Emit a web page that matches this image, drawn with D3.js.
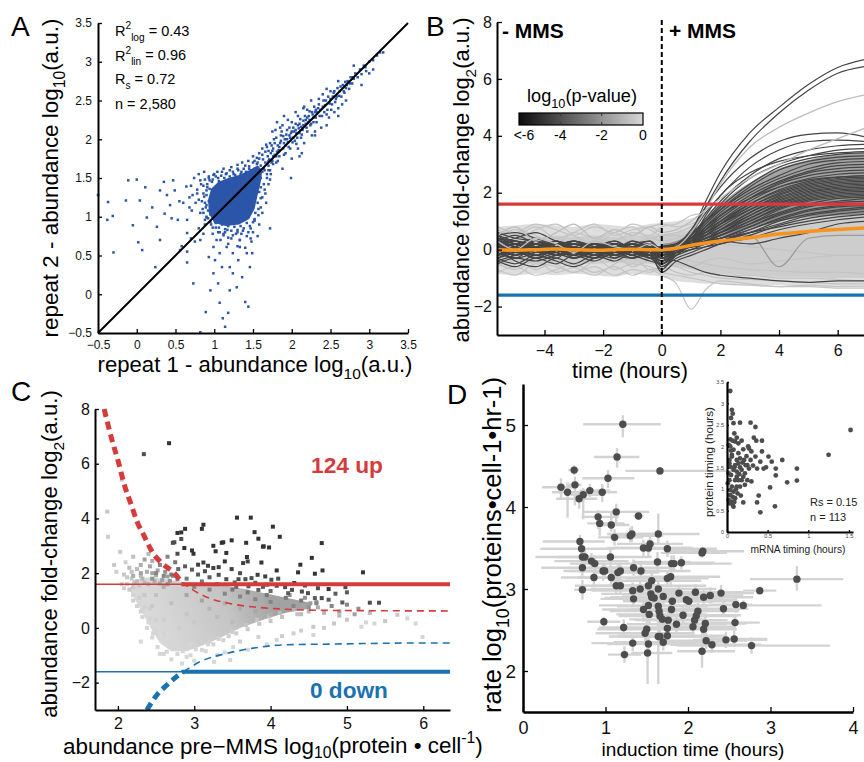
<!DOCTYPE html>
<html><head><meta charset="utf-8">
<script src="https://cdn.jsdelivr.net/npm/d3@7"></script>
<style>body{margin:0;background:#fff}svg{display:block}</style>
</head><body>
<svg width="864" height="762"></svg>
<script>
// ---------------- DATA ----------------
// Panel A: repeat 1 vs repeat 2 abundance (log10)
const repeatCore = [[1.0,0.92],[0.93,1.05],[0.92,1.22],[0.96,1.36],[1.05,1.45],[1.18,1.5],[1.32,1.54],[1.45,1.6],[1.56,1.66],[1.62,1.6],[1.6,1.45],[1.56,1.28],[1.52,1.1],[1.45,0.97],[1.32,0.9],[1.15,0.88]];
const repeatPoints = [
[0.78,1.35],[0.8,1.22],[0.83,1.42],[0.85,1.1],[0.86,1.3],[0.88,1.48],[0.9,1.0],[0.9,1.15],[0.91,1.38],[0.93,1.52],[0.95,0.93],[0.97,1.45],[1.0,1.55],[1.02,0.86],[1.05,1.5],[1.07,0.8],[1.1,1.58],[1.12,0.76],[1.15,1.55],[1.17,0.83],[1.2,1.6],[1.22,0.72],[1.25,1.55],[1.28,0.78],[1.3,1.62],[1.33,0.7],[1.35,1.58],[1.37,0.82],[1.4,1.66],[1.42,0.75],[1.45,1.62],[1.47,0.85],[1.5,1.7],[1.52,0.95],[1.55,1.68],[1.57,1.02],[1.6,1.12],[1.62,1.25],[1.65,1.35],[1.68,1.5],[1.7,1.42],[1.72,1.6],[1.58,0.9],[1.48,0.68],[1.4,0.6],[1.3,0.62],[1.18,0.65],[1.08,0.7],[0.98,0.78],[0.88,0.9],[0.82,1.05],[0.76,1.18],[0.72,1.28],[0.7,1.4],[0.74,1.5],[0.8,1.55],[0.87,1.58],[0.68,1.12],
[0.86,1.05],[0.88,1.18],[0.87,1.26],[0.9,1.34],[0.92,1.08],[0.93,1.2],[0.91,1.42],[0.94,1.47],[0.89,1.12],[0.92,0.98],[0.95,1.03],[0.9,1.28],[0.94,1.36],[0.86,1.4],[0.84,1.2],[0.88,0.96],[0.96,0.9],[0.93,1.5],
[0.98,1.48],[1.02,1.52],[1.06,1.46],[1.09,1.53],[1.13,1.5],[1.16,1.56],[1.2,1.52],[1.24,1.58],[1.27,1.54],[1.31,1.6],[1.34,1.55],[1.38,1.62],[1.41,1.58],[1.45,1.65],[1.48,1.6],[1.52,1.72],[1.04,1.58],[1.12,1.62],[1.22,1.64],[1.3,1.67],[1.36,1.7],[1.44,1.72],[1.5,1.78],[1.58,1.82],[1.55,1.76],[1.62,1.88],[1.67,1.93],[1.7,1.85],
[1.55,1.4],[1.58,1.32],[1.6,1.5],[1.62,1.58],[1.56,1.18],[1.6,1.24],[1.64,1.42],[1.66,1.3],[1.68,1.55],[1.7,1.66],[1.53,1.05],[1.57,1.1],[1.52,0.97],[1.62,1.05],[1.74,1.7],[1.76,1.78],[1.72,1.48],[1.67,1.18],
[1.02,0.92],[1.06,0.86],[1.1,0.9],[1.14,0.84],[1.18,0.88],[1.22,0.82],[1.26,0.87],[1.3,0.83],[1.34,0.88],[1.38,0.85],[1.42,0.92],[1.46,0.88],[1.5,0.93],[1.12,0.78],[1.24,0.76],[1.35,0.78],[1.44,0.8],[1.05,0.8],[0.98,0.86],
[1.52,1.62],[1.56,1.7],[1.6,1.66],[1.63,1.74],[1.66,1.7],[1.69,1.78],[1.71,1.74],[1.73,1.82],[1.76,1.88],[1.78,1.95],[1.81,1.84],[1.84,1.9],[1.86,1.98],[1.89,2.04],[1.92,1.92],[1.94,2.0],[1.97,2.05],[2.0,2.1],[2.02,2.02],[2.05,2.12],[2.08,2.18],[2.1,2.08],[2.12,2.16],[2.15,2.24],[2.18,2.2],[2.2,2.28],[2.23,2.25],[2.26,2.35],[2.28,2.22],[2.31,2.38],[1.58,1.56],[1.64,1.62],[1.7,1.6],[1.75,1.72],[1.8,1.78],[1.66,1.84],[1.72,1.95],[1.58,1.75],[1.54,1.55],[1.6,1.38],
[1.74,1.92],[1.78,1.8],[1.8,2.02],[1.83,1.86],[1.85,1.95],[1.87,2.1],[1.89,1.88],[1.91,2.0],[1.93,2.06],[1.95,1.96],[1.97,2.15],[1.99,2.08],[2.01,1.96],[2.03,2.1],[2.05,2.2],[2.07,2.02],[2.09,2.14],[2.11,2.26],[2.13,2.06],[2.15,2.18],[2.17,2.3],[2.19,2.15],[2.21,2.22],[2.23,2.36],[2.25,2.2],[2.27,2.32],[2.29,2.42],[2.31,2.28],[2.33,2.35],[2.35,2.45],[2.37,2.38],[2.39,2.3],[2.41,2.5],[2.43,2.44],[2.45,2.32],[2.47,2.55],[2.49,2.46],[2.51,2.38],[2.53,2.55],[2.55,2.62],[2.57,2.52],[2.59,2.66],[2.61,2.56],[2.63,2.68],[2.67,2.62],[2.69,2.74],[2.71,2.7],[2.75,2.72],[1.76,1.68],[1.82,1.72],[1.9,1.8],[1.98,1.88],[2.06,1.94],[2.0,2.22],[2.08,2.3],[2.16,2.42],[1.88,2.18],[1.79,2.12],
[1.62,1.8],[1.65,1.6],[1.68,1.9],[1.7,1.72],[1.73,1.55],[1.75,1.85],[1.77,2.0],[1.8,1.7],[1.82,1.92],[1.84,1.78],[1.86,2.05],[1.88,1.62],[1.9,1.95],[1.92,1.82],[1.94,2.12],[1.96,1.9],[1.98,2.02],[2.0,1.75],[2.02,2.15],[2.04,1.98],[2.06,2.08],[2.08,1.88],[2.1,2.2],[2.12,2.02],[2.14,2.12],[2.16,1.95],[2.18,2.25],[2.2,2.1],[2.22,2.3],[2.24,2.18],[2.26,2.05],[2.28,2.28],[2.3,2.35],[2.32,2.22],[2.34,2.4],[2.36,2.3],[2.38,2.15],[2.4,2.42],[2.42,2.35],[2.44,2.5],[2.46,2.38],[2.48,2.28],[2.5,2.52],[2.52,2.45],[2.54,2.6],[2.56,2.48],[2.58,2.55],[2.6,2.4],[2.62,2.62],[2.64,2.55],[2.66,2.7],[2.68,2.6],[2.7,2.66],[2.72,2.75],[2.74,2.65],[2.76,2.8],[2.78,2.72],[2.8,2.78],[2.82,2.85],[2.85,2.8],[2.88,2.9],[2.9,2.84],[2.93,2.95],[2.96,2.88],[3.0,3.0],[3.05,3.02],[3.1,3.08],[3.14,3.12],[3.0,2.85],[2.5,2.62],[2.2,2.38],[1.95,2.25],[2.35,2.52],[2.55,2.35],[2.3,2.05],[2.65,2.45],[2.45,2.18],[1.85,2.15],[2.15,2.4],
[1.81,2.22],[2.13,1.82],[1.99,1.5],[2.79,2.8],[2.95,2.93],[3.18,3.12],[1.72,0.85],[2.25,2.5],[2.4,2.58],[1.9,2.3],[2.05,2.35],[2.6,2.75],[2.45,2.65],[2.8,2.95],[2.1,1.78],[2.3,2.1],[1.75,2.1],[2.6,2.3],[2.7,2.5],[2.9,2.7],[3.05,2.9],
[-0.5,1.28],[-0.37,1.19],[-0.38,0.96],[-0.31,1.01],[-0.14,1.21],[-0.11,1.47],[0.0,1.48],[-0.05,0.89],[0.04,1.21],[0.02,0.67],[0.07,0.57],[0.11,1.38],[0.13,0.99],[0.24,0.35],[0.3,1.34],[0.39,1.28],[0.43,1.15],[0.49,1.34],[0.3,0.7],[0.56,0.57],[0.6,1.18],[0.65,0.96],[0.26,0.87],[-0.3,0.54],[0.2,1.12],[0.47,1.47],[0.78,1.3],[0.71,1.08],[0.36,1.04],[0.53,0.96],[0.65,0.79],[0.82,0.7],[0.9,0.99],[0.82,1.47],[0.99,1.54],[0.64,1.39],[0.58,0.62],[0.65,0.55],[0.7,0.72],[0.75,0.68],[0.8,0.85],[0.86,0.78],[0.55,1.2],[0.45,0.98],[0.68,1.25],[0.35,1.45],
[0.65,0.41],[0.73,0.14],[0.82,-0.49],[0.89,-0.23],[0.95,0.05],[0.99,0.27],[1.01,0.44],[1.05,0.14],[1.07,-0.11],[1.11,-0.31],[1.14,-0.42],[1.18,-0.24],[1.2,0.05],[1.24,0.27],[1.29,0.09],[1.31,0.44],[1.36,0.22],[1.4,-0.1],[1.44,-0.16],[1.46,0.35],[1.49,0.53],[1.07,0.53],[1.16,0.61],[1.24,0.53],[1.33,0.61],[0.99,0.61],[0.93,0.48],[1.2,0.35],[1.1,0.35],[1.42,0.53],[1.03,0.7],[1.18,0.73],[1.33,0.7],[1.47,0.72],[1.14,0.8],[1.3,0.8],[1.5,0.8],[1.56,0.75]];
const statsA = ["0.43","0.96","0.72","2,580"];

// Panel B: abundance fold-change time courses (log2)
const timeB = [-5.6,-5,-4.3,-3.6,-3,-2.3,-1.6,-1,-0.4,0,0.5,1,1.5,2,3,4,5,6,7];
const bandOuterHi = [0.8,0.85,0.9,0.85,0.8,0.9,0.85,0.8,0.9,0.95,1.0,1.1,1.3,1.45,1.6,1.7,1.75,1.8,1.85];
const bandOuterLo = [-0.85,-0.9,-0.85,-0.9,-0.85,-0.9,-0.95,-0.85,-0.9,-0.95,-1.1,-1.15,-1.2,-1.2,-1.25,-1.25,-1.3,-1.3,-1.3];
const bandInnerHi = [0.45,0.5,0.45,0.5,0.45,0.5,0.45,0.5,0.5,0.55,0.6,0.7,0.85,1.0,1.2,1.35,1.45,1.5,1.55];
const bandInnerLo = [-0.5,-0.45,-0.5,-0.45,-0.5,-0.5,-0.45,-0.5,-0.5,-0.55,-0.6,-0.7,-0.8,-0.85,-0.9,-0.95,-0.95,-1.0,-1.0];
const timeFan = [0,0.5,1,1.5,2,3,4,5,6,7];
const fanLo = [-0.2,0.0,0.15,0.3,0.45,0.75,1.0,1.15,1.2,1.25];
const fanHi = [0.2,0.3,0.6,1.1,1.6,2.35,2.85,3.15,3.35,3.4];
const medianB = [0.0,-0.02,0.0,0.02,0.0,-0.02,0.0,0.01,0.0,0.0,0.05,0.15,0.23,0.3,0.42,0.55,0.64,0.71,0.77];
const upLines = [
[0.1,-0.2,0.2,-0.1,0.3,0.0,-0.2,0.1,-0.3,-0.5,0.0,0.6,1.7,2.7,4.1,5.0,5.8,6.4,6.7],
[0.3,0.1,-0.2,0.2,0.0,-0.3,0.2,0.0,-0.2,-0.7,-0.1,0.5,1.5,2.4,3.8,4.8,5.6,6.2,6.45],
[-0.2,0.1,0.3,-0.1,-0.3,0.1,0.2,-0.2,0.0,-0.3,0.1,0.7,1.5,2.2,3.2,3.8,4.05,4.1,3.95],
[0.4,0.2,0.0,0.3,-0.1,0.0,-0.2,0.2,-0.1,-0.2,0.2,0.6,1.3,1.9,2.9,3.5,3.8,3.85,3.8],
[0.5,0.2,0.4,0.0,0.1,-0.2,0.1,-0.1,0.2,0.0,0.1,0.5,1.1,1.7,2.6,3.2,3.5,3.65,3.7],
[0.0,-0.3,-0.1,0.2,-0.2,0.1,-0.1,0.3,0.0,-0.4,0.0,0.4,1.0,1.6,2.5,3.0,3.3,3.5,3.55],
[-0.3,-0.1,0.2,-0.2,0.0,0.2,-0.3,0.0,0.2,-0.1,0.2,0.5,1.0,1.5,2.3,2.9,3.2,3.35,3.4],
[0.2,0.0,-0.3,0.1,0.3,-0.1,0.0,-0.2,0.1,-0.3,0.1,0.4,0.9,1.4,2.2,2.8,3.1,3.25,3.3],
[0.3,0.5,0.2,0.0,-0.1,0.1,0.3,0.0,-0.2,0.1,0.2,0.6,1.0,1.4,2.1,2.6,3.0,3.15,3.2],
[-0.1,0.2,0.0,-0.3,0.1,-0.2,0.0,0.2,-0.1,-0.6,-0.2,0.3,0.8,1.3,2.0,2.5,2.85,3.05,3.1],
[0.1,-0.1,0.3,0.1,-0.2,0.0,0.2,-0.1,0.1,0.0,0.1,0.4,0.8,1.2,1.9,2.4,2.75,2.95,3.0],
[0.4,0.3,0.1,-0.2,0.2,0.0,-0.1,0.1,0.3,-0.2,0.0,0.3,0.7,1.2,1.8,2.35,2.7,2.85,2.9],
[-0.4,-0.2,0.0,0.2,-0.1,-0.3,0.1,-0.2,0.0,-0.1,0.1,0.3,0.7,1.1,1.8,2.3,2.6,2.75,2.8],
[0.0,0.2,-0.2,0.0,0.3,0.1,-0.2,0.0,-0.3,-0.2,0.0,0.2,0.6,1.0,1.7,2.2,2.5,2.65,2.7],
[0.2,-0.1,0.1,0.3,0.0,-0.2,0.0,0.3,0.1,0.0,0.2,0.4,0.7,1.0,1.6,2.1,2.4,2.55,2.6],
[-0.2,0.0,0.2,-0.1,-0.3,0.0,0.2,-0.1,-0.2,-0.4,-0.1,0.2,0.5,0.9,1.6,2.05,2.35,2.5,2.55],
[0.3,0.1,-0.1,0.1,0.2,-0.1,-0.3,0.1,0.0,0.1,0.2,0.4,0.6,0.9,1.5,2.0,2.3,2.45,2.5],
[0.1,0.3,0.0,-0.2,0.0,0.2,0.1,-0.2,0.2,-0.1,0.0,0.2,0.5,0.9,1.5,1.95,2.25,2.4,2.45],
[-0.1,-0.3,0.1,0.0,0.2,-0.1,0.0,0.2,-0.1,-0.3,0.1,0.3,0.5,0.8,1.4,1.9,2.2,2.35,2.4],
[0.5,0.3,0.2,0.0,-0.2,0.1,0.0,-0.1,0.1,0.0,0.1,0.3,0.6,0.9,1.4,1.85,2.15,2.3,2.35],
[0.0,0.1,-0.2,0.2,0.1,-0.2,0.1,0.0,-0.2,-0.2,0.0,0.2,0.4,0.7,1.3,1.8,2.1,2.25,2.3],
[0.2,0.0,0.1,-0.1,-0.2,0.2,-0.1,0.1,0.0,-0.5,-0.1,0.2,0.4,0.7,1.3,1.75,2.05,2.2,2.25],
[-0.3,0.0,0.2,0.1,-0.1,0.0,0.3,-0.1,-0.2,0.0,0.1,0.3,0.5,0.7,1.2,1.7,2.0,2.15,2.2],
[0.1,-0.2,0.0,0.2,0.0,-0.3,-0.1,0.2,0.0,-0.1,0.0,0.2,0.4,0.6,1.2,1.65,1.95,2.1,2.15],
[0.3,0.2,-0.1,-0.1,0.2,0.1,-0.2,0.0,0.1,0.1,0.1,0.2,0.4,0.6,1.1,1.6,1.9,2.05,2.1],
[0.0,-0.2,0.1,0.0,-0.2,0.2,0.0,-0.3,0.0,-0.2,0.0,0.1,0.3,0.6,1.1,1.55,1.85,2.0,2.05],
[-0.2,0.1,0.3,0.0,0.1,-0.1,0.2,0.1,-0.1,0.0,0.1,0.2,0.4,0.6,1.0,1.5,1.8,1.95,2.0],
[0.4,0.1,0.0,0.2,-0.1,0.0,-0.2,0.1,0.2,-0.3,-0.1,0.1,0.3,0.5,1.0,1.45,1.75,1.9,1.95],
[0.1,0.0,-0.3,-0.1,0.1,0.2,0.0,-0.1,-0.2,-0.1,0.0,0.1,0.3,0.5,0.9,1.4,1.7,1.85,1.9],
[-0.1,0.2,0.1,0.3,0.0,-0.2,0.1,0.2,0.0,0.0,0.1,0.2,0.3,0.5,0.9,1.3,1.6,1.8,1.85],
[0.2,-0.1,-0.2,0.0,0.2,0.0,-0.1,0.0,0.1,-0.2,0.0,0.1,0.3,0.4,0.8,1.25,1.55,1.7,1.8],
[0.0,0.3,0.1,-0.2,-0.1,0.1,0.2,-0.2,-0.1,-0.1,0.0,0.1,0.2,0.4,0.8,1.2,1.5,1.65,1.7],
[0.3,0.0,0.2,0.1,-0.3,-0.1,0.0,0.1,0.2,0.0,0.1,0.1,0.2,0.4,0.7,1.1,1.4,1.55,1.6],
[-0.2,-0.1,0.0,0.2,0.1,0.0,-0.2,0.0,-0.1,-0.3,-0.1,0.0,0.2,0.3,0.7,1.05,1.35,1.5,1.55],
[0.1,0.2,-0.1,0.0,0.0,0.2,0.1,-0.1,0.0,0.1,0.1,0.1,0.2,0.3,0.6,1.0,1.25,1.4,1.5],
[0.6,0.4,0.3,0.1,0.0,-0.1,0.1,0.0,-0.2,-0.4,-0.2,0.0,0.1,0.3,0.6,0.9,1.2,1.35,1.45],
[-0.5,-0.3,-0.4,-0.2,-0.1,0.0,-0.2,-0.3,-0.1,-0.6,-0.3,-0.1,0.1,0.2,0.5,0.85,1.1,1.25,1.35],
[0.5,0.6,0.4,0.2,0.3,0.1,0.0,0.2,0.3,0.0,0.1,0.2,0.3,0.4,0.6,0.8,1.0,1.15,1.25],
[-0.4,-0.6,-0.3,-0.5,-0.2,-0.4,-0.1,-0.3,-0.2,-0.8,-0.4,-0.2,0.0,0.2,0.4,0.7,0.9,1.05,1.15],
[0.2,0.4,0.6,0.3,0.2,0.0,-0.1,0.1,0.0,-0.3,0.0,0.2,0.8,1.2,1.8,2.2,2.45,2.55,2.6],
[-0.3,-0.5,-0.2,-0.4,-0.6,-0.3,-0.1,-0.2,-0.4,-0.5,-0.2,0.3,1.2,1.9,2.7,3.1,3.3,3.4,3.45],
[0.0,-0.4,-0.6,-0.3,-0.5,-0.2,-0.4,-0.1,-0.3,-0.2,-0.1,0.1,0.2,0.3,0.2,0.4,0.6,0.9,1.0],
[0.1,0.0,-0.2,0.1,0.0,-0.1,0.2,0.0,-0.1,-0.3,-0.4,-0.6,-0.8,-0.9,-1.0,-1.1,-1.15,-1.1,-1.1]];
const otherLines = [
[0.7,0.5,0.8,0.4,0.6,0.9,0.5,0.7,0.8,0.9,0.8,0.9,1.1,1.3,1.5,1.6,1.7,1.8,1.85],
[-0.8,-0.6,-0.9,-0.7,-0.5,-0.8,-0.6,-0.9,-0.7,-0.9,-1.2,-2.1,-1.4,-1.1,-1.2,-1.3,-1.25,-1.3,-1.3],
[-0.5,-0.7,-0.4,-0.8,-0.6,-0.3,-0.7,-0.5,-0.6,-0.8,-0.9,-1.0,-1.1,-1.2,-1.25,-1.3,-1.3,-1.35,-1.35],
[0.6,0.3,0.7,0.9,0.5,0.2,0.6,0.8,0.4,0.5,0.6,0.8,1.1,1.2,1.4,1.5,1.6,1.65,1.7],
[-0.3,-0.6,-0.2,-0.5,-0.8,-0.4,-0.2,-0.6,-0.4,-0.5,-0.6,-0.8,-0.9,-1.0,-1.05,-1.1,-1.15,-1.2,-1.2],
[0.2,0.5,0.1,0.4,0.0,0.3,0.6,0.2,0.4,0.3,0.4,0.6,0.8,1.0,1.1,0.9,1.2,1.3,1.35],
[-0.6,-0.3,-0.7,-0.4,-0.6,-0.9,-0.5,-0.3,-0.7,-0.6,-0.5,-0.6,-0.4,-0.3,-0.5,-0.4,-0.3,-0.2,-0.2],
[0.8,0.6,0.9,0.7,0.5,0.8,0.6,0.9,0.7,0.5,0.5,0.4,0.3,0.2,0.1,0.0,-0.1,-0.2,-0.2],
[-0.7,-0.9,-0.5,-0.6,-0.8,-0.6,-0.9,-0.7,-0.8,-0.6,-0.8,-0.9,-0.8,-0.9,-0.9,-1.0,-1.0,-1.05,-1.1],
[0.4,0.7,0.5,0.2,0.6,0.4,0.3,0.6,0.5,0.8,0.9,1.2,1.3,1.5,1.6,1.7,1.75,1.8,1.8],
[-0.2,0.1,-0.4,-0.1,0.2,-0.3,0.0,0.3,-0.2,-0.1,-0.2,-0.4,-0.5,-0.6,-0.7,-0.75,-0.8,-0.8,-0.85]];
const spikeLine = [0.1,-0.2,0.2,0.0,-0.1,0.1,0.0,-0.2,0.1,0.0,0.0,0.1,0.3,0.4,0.5,-0.6,0.4,0.5,0.5];
const lightHighLines = [
[0.5,0.8,0.3,0.6,0.9,0.4,0.7,0.5,0.8,0.6,0.7,1.0,1.4,1.8,2.5,3.0,3.5,3.9,4.3],
[0.3,0.0,0.4,0.2,-0.1,0.3,0.1,0.0,0.2,0.0,0.1,0.6,1.4,2.3,3.6,4.3,4.8,5.2,5.45]];
const thresholdB = 1.6;
const pvalTicks = [-6,-4,-2,0];
const pvalLabels = ["<-6","-4","-2","0"];

// Panel C: fold-change vs pre-MMS abundance
const cloudC = [[2.2,1.75],[2.4,1.85],[2.6,1.8],[2.8,1.7],[3.1,1.62],[3.4,1.55],[3.7,1.4],[4.0,1.22],[4.3,1.05],[4.55,0.9],[4.5,0.7],[4.2,0.55],[3.9,0.3],[3.6,0.0],[3.35,-0.35],[3.1,-0.65],[2.9,-0.85],[2.7,-0.85],[2.55,-0.55],[2.45,-0.1],[2.35,0.4],[2.25,0.9],[2.15,1.4]];
const pointsC = [
[2.34,6.35,-5],[2.67,6.75,-6],[3.56,4.03,-6],[3.74,4.03,-6],[4.03,3.7,-6],[4.12,3.33,-6],[3.79,3.5,-6],[3.84,3.26,-6],[3.91,2.98,-6],[3.98,2.94,-6],[4.67,3.1,-6],[4.54,2.56,-6],[4.36,2.03,-6],[4.39,2.31,-6],[4.58,1.98,-6],[4.68,2.1,-6],[4.76,1.42,-6],[4.98,1.49,-5],[5.21,2.03,-6],[5.3,0.92,-5],[5.42,0.92,-5],[4.94,0.93,-4.5],[4.67,1.09,-5],[4.41,1.33,-5],[4.31,1.64,-6],[4.08,2.1,-6],[3.88,2.39,-6],[3.69,2.59,-6],[3.7,2.43,-5.5],[3.64,2.37,-5.5],[3.49,3.2,-6],[3.38,3.13,-6],[3.42,2.74,-6],[3.28,2.8,-6],[3.25,3.0,-6],[3.4,2.43,-6],[3.49,2.15,-5.5],[3.32,2.22,-5.5],[3.25,2.19,-5.5],[3.12,3.77,-6],[3.1,3.62,-6],[2.88,3.62,-6],[2.83,3.49,-6],[2.78,3.47,-6],[2.83,3.25,-5],[2.87,2.92,-6],[2.97,2.83,-6],[2.99,2.71,-6],[2.78,2.71,-5],[2.74,3.13,-5],[3.12,2.39,-5.5],[3.05,2.31,-5.5],[3.18,2.27,-5.5],[3.14,2.07,-5],[3.58,1.78,-5],[3.67,1.78,-5],[3.75,1.82,-5],[3.83,1.94,-5.5],[3.93,1.88,-5.5],[4.01,1.76,-5],[3.95,1.58,-5],[4.08,1.54,-5],[4.19,1.49,-5],[4.28,1.39,-5],[4.49,1.27,-5],[4.58,1.09,-4.5],[4.76,1.03,-4.5],[4.23,1.27,-4.5],[3.84,1.39,-4.5],[3.71,1.52,-4.5],[3.53,1.66,-4.5],[3.42,1.78,-5],[3.32,1.94,-5],[2.97,2.13,-4.5],[2.88,2.25,-4.5],[2.79,2.15,-4],[3.36,3.11,-6],[3.68,3.11,-6],[3.9,2.97,-6],[2.72,3.11,-5],[3.6,2.0,-5],[3.8,1.65,-4.5],[4.1,1.8,-5],[3.2,1.85,-4.5],[3.05,1.95,-4.5],[4.45,1.55,-5],[4.62,1.45,-5],[4.85,1.25,-4.5],[5.0,1.3,-4.5],[3.9,1.5,-4.5],[4.0,1.35,-4],[3.55,1.5,-4],
[2.5,2.0,-3],[2.6,1.9,-3],[2.45,1.8,-2.5],[2.7,1.95,-3.5],[2.55,2.3,-3],[2.35,2.5,-2],[2.3,2.0,-2],[2.2,1.9,-1.5],[2.65,2.6,-3],[2.75,2.4,-3.5],[2.9,1.8,-3.5],[3.1,1.7,-3.5],[3.3,1.6,-3.5],[3.5,1.4,-3.5],[3.7,1.3,-3.5],[3.95,1.2,-3.5],[4.2,1.1,-3.5],[4.4,1.0,-3.5],[4.6,0.9,-3],[4.8,0.8,-3],[5.0,0.85,-3],[5.15,0.7,-2.5],[4.3,0.8,-3],[4.0,0.95,-3],[3.8,1.05,-3],[3.4,1.25,-3],[3.2,1.4,-3],[3.0,1.5,-3],[2.85,1.6,-2.5],[3.6,1.15,-3],[4.5,0.75,-2.5],[4.9,0.6,-2],[5.1,0.5,-2],
[2.12,1.85,-0.5],[2.18,2.05,-0.8],[2.25,2.15,-1],[2.32,1.8,-1.2],[2.38,2.05,-1.5],[2.42,2.25,-1.8],[2.48,1.7,-1.5],[2.52,2.1,-2],[2.58,1.75,-2],[2.62,2.05,-2.5],[2.68,1.72,-2.5],[2.72,1.9,-2.5],[2.78,1.78,-2.8],[2.22,1.65,-0.8],[2.35,1.65,-1.2],[2.45,2.0,-1.8],[2.55,1.62,-1.8],[2.65,1.6,-2.2],
[1.86,4.25,-0.5],[1.87,3.33,-0.3],[2.05,5.42,-0.5],[2.03,2.78,-0.5],[2.1,2.4,-0.3],[1.95,2.3,-0.5],[2.2,2.6,-0.8],[2.4,2.7,-1],[1.98,2.05,-0.3],[2.08,1.95,-0.5],[2.15,2.2,-1],[2.3,2.3,-1.5],[2.45,2.45,-1.5],[2.25,1.7,-1],[2.4,1.6,-1.2],
[2.3,-0.5,0],[2.46,-0.2,0],[2.51,-0.15,0],[2.64,-0.87,0],[2.73,-0.55,0],[2.84,-1.3,0],[2.9,-1.06,0],[3.0,-1.2,0],[3.26,-1.24,0],[3.3,-1.0,0],[3.47,-1.17,0],[3.51,-0.7,0],[3.6,-0.5,-0.3],[3.84,-0.33,-0.2],[4.08,-0.44,0],[4.3,-0.2,-0.2],[4.56,-0.26,0],[4.56,0.04,-0.5],[4.83,0.16,-0.5],[5.19,0.04,0],[5.25,0.2,0],[5.36,0.16,0],[5.66,0.48,-0.5],[5.79,0.35,0],[5.9,0.16,0],[5.99,-0.33,0],[2.55,-0.95,0],[2.7,-1.15,0],[3.15,-0.85,0],[3.4,-0.9,0],[3.7,-0.8,0],[3.95,-0.6,0],[4.15,-0.3,-0.3],[4.4,-0.1,-0.3],[4.7,0.0,-0.3],[5.0,0.3,-0.5],[5.5,0.25,-0.5],[2.4,0.2,0],[2.3,0.6,-0.2],[2.2,1.0,-0.3],[2.15,1.4,-0.5],[2.05,1.6,-0.3],[4.9,0.45,-1],[4.7,0.55,-1.2],[4.4,0.5,-1],[5.3,0.55,-1],[2.62,-0.3,0],[2.95,-0.6,0],[3.2,-0.5,-0.2],[3.45,-0.3,-0.3],
[2.12,1.6,-0.3],[2.18,1.8,-0.5],[2.08,1.45,-0.2],[2.2,1.2,-0.2],[2.25,0.8,-0.1],[2.32,0.4,0],[2.38,0.0,0],[2.45,-0.35,0],[2.52,-0.7,0],[2.6,-0.95,0],[2.78,-0.95,0],[2.95,-1.0,0],[3.1,-0.8,0],[3.25,-0.6,-0.2],[3.38,-0.45,-0.2],[3.55,-0.2,-0.3],[3.7,-0.05,-0.4],[3.85,0.15,-0.5],[4.0,0.25,-0.6],[4.15,0.4,-0.7],[4.35,0.5,-0.8],[4.5,0.6,-1],[4.62,0.75,-1.5],[4.6,0.95,-2],[4.45,1.1,-2.5],[4.25,1.2,-2.5],[2.3,1.9,-1],[2.5,1.92,-1.5],[2.65,1.88,-2],[2.28,1.55,-0.6],[2.35,1.2,-0.5],[2.42,0.7,-0.3],[2.5,0.3,-0.2],[2.6,-0.2,-0.1],[2.75,-0.6,0],[2.9,-0.7,-0.1],[3.05,-0.45,-0.3],[2.2,1.5,-0.4],[2.28,1.1,-0.3],[2.35,0.75,-0.2],[2.42,0.35,-0.1],[2.48,-0.05,0],[2.58,-0.4,0],[2.68,-0.7,0],[2.85,-0.85,0],[3.02,-0.78,0],[3.18,-0.6,-0.1],[3.32,-0.4,-0.2],[3.5,-0.15,-0.3],[3.68,0.1,-0.5],[3.82,0.3,-0.6],[3.98,0.42,-0.8],[4.12,0.55,-1],[4.3,0.68,-1.2],[4.42,0.82,-1.8],[4.52,0.9,-2.2],
[2.5,1.2,-0.8],[2.7,0.9,-0.8],[2.9,0.5,-0.6],[2.6,0.3,-0.3],[2.8,0.0,-0.3],[3.0,0.2,-0.5],[3.2,0.7,-1.2],[3.4,0.9,-1.5],[3.6,0.7,-1.5],[3.8,0.6,-1.8],[4.0,0.5,-1.5],[2.6,1.5,-1.5],[2.9,1.2,-1.8],[3.1,1.0,-1.8],[3.3,0.4,-1],[3.5,0.2,-1],[2.45,0.8,-0.5],[2.7,-0.5,0]];
const upThickC = [[1.82,8.0],[1.92,6.89],[2.01,6.03],[2.08,5.27],[2.17,4.54],[2.25,3.89],[2.34,3.38],[2.46,2.73],[2.6,2.31],[2.73,2.03],[2.84,1.65]];
const upThinC = [[2.84,1.65],[3.14,1.15],[3.45,0.9],[3.8,0.76],[4.15,0.69],[4.76,0.64],[6.35,0.62]];
const downThickC = [[2.38,-3.0],[2.51,-2.45],[2.64,-2.09],[2.77,-1.78],[2.86,-1.6]];
const downThinC = [[2.86,-1.6],[3.08,-1.23],[3.43,-0.93],[3.77,-0.74],[4.17,-0.62],[4.82,-0.59],[6.0,-0.55],[6.35,-0.55]];
const thresholdC = 1.6, splitC = 2.84;
const countUp = "124 up", countDown = "0 down";

// Panel D: rate vs induction time  [x, y, xErrLeft, xErrRight, yErrDown, yErrUp]
const inductionD = [
[1.21,5.01,0.48,0.46,0.16,0.11],[1.14,4.61,0.28,0.27,0.13,0.11],[1.66,4.44,0.42,0.9,0.05,0.05],[0.62,4.45,0.07,0.06,0.06,0.06],[0.46,4.24,0.23,0.17,0.14,0.11],[0.63,4.27,0.1,0.08,0.25,0.1],[1.03,4.35,0.31,0.32,0.12,0.1],[0.54,4.18,0.19,0.38,0.31,0.12],[0.73,4.15,0.15,0.2,0.3,0.08],[0.81,4.2,0.12,0.25,0.08,0.08],[0.96,4.18,0.18,0.18,0.12,0.1],[0.68,4.1,0.28,0.22,0.12,0.1],[1.13,3.94,0.39,0.4,0.14,0.1],[1.4,3.89,0.06,0.06,0.05,0.05],[0.91,3.88,0.2,0.25,0.15,0.08],[0.93,3.8,0.15,0.3,0.15,0.1],[1.07,3.78,0.18,0.22,0.08,0.15],[1.11,3.63,0.2,0.35,0.1,0.1],[1.3,3.65,0.25,0.4,0.08,0.1],[1.32,3.67,0.3,0.3,0.1,0.1],[1.64,3.67,0.25,0.5,0.12,0.25],[0.69,3.58,0.45,0.3,0.1,0.08],[0.71,3.49,0.5,0.4,0.12,0.1],[1.54,3.55,0.4,0.4,0.1,0.1],[1.46,3.5,0.35,0.6,0.1,0.1],[1.52,3.5,0.5,0.5,0.1,0.1],[1.75,3.49,0.3,0.6,0.1,0.1],[2.17,3.44,0.5,0.3,0.06,0.06],[2.18,3.46,0.4,0.5,0.05,0.05],[0.72,3.39,0.3,0.3,0.1,0.12],[0.75,3.39,0.6,0.4,0.1,0.1],[1.06,3.39,0.4,0.5,0.15,0.1],[0.83,3.34,0.45,0.45,0.1,0.1],[0.87,3.31,0.3,0.4,0.08,0.1],[1.63,3.33,0.3,0.4,0.1,0.12],[1.8,3.31,0.3,0.5,0.1,0.1],[1.83,3.31,0.6,0.7,0.1,0.1],[1.92,3.32,0.4,0.4,0.08,0.08],[0.72,3.26,0.5,0.5,0.1,0.1],[0.97,3.22,0.4,0.4,0.12,0.1],[0.99,3.22,0.5,0.6,0.1,0.1],[1.15,3.2,0.3,0.5,0.1,0.1],[1.18,3.22,0.5,0.5,0.1,0.1],[1.34,3.26,0.4,0.45,0.1,0.1],[1.43,3.22,0.5,0.6,0.1,0.1],[1.75,3.13,0.5,0.5,0.1,0.1],[1.79,3.15,0.4,0.6,0.12,0.12],[0.86,3.14,0.4,0.3,0.12,0.1],[1.07,3.14,0.4,0.4,0.1,0.1],[1.13,3.04,0.5,0.6,0.1,0.1],[1.18,3.04,0.35,0.45,0.1,0.1],[1.56,3.1,0.5,0.6,0.1,0.1],[0.72,2.99,0.1,0.15,0.12,0.12],[1.33,2.98,0.5,0.6,0.1,0.1],[1.42,3.0,0.6,0.6,0.1,0.1],[1.52,3.04,0.5,0.7,0.1,0.1],[1.64,3.0,0.5,0.7,0.1,0.1],[1.34,2.88,0.4,0.8,0.1,0.1],[1.55,2.94,0.6,0.6,0.1,0.1],[1.56,2.9,0.5,0.7,0.1,0.15],[1.59,2.89,0.6,0.8,0.1,0.1],[1.7,2.91,0.5,0.7,0.1,0.1],[1.89,2.95,0.6,0.5,0.1,0.1],[2.09,2.96,0.5,0.6,0.1,0.1],[2.19,2.9,0.5,0.6,0.1,0.1],[2.27,2.92,0.5,0.4,0.1,0.1],[2.4,2.95,0.6,0.4,0.1,0.1],[2.87,2.98,0.2,0.2,0.05,0.05],[3.32,3.12,0.57,0.56,0.14,0.16],[1.52,2.8,0.6,0.7,0.12,0.12],[1.64,2.79,0.5,0.6,0.1,0.1],[1.81,2.85,0.6,0.5,0.1,0.1],[1.98,2.87,0.5,0.6,0.1,0.1],[2.01,2.85,0.6,0.6,0.1,0.1],[2.43,2.76,0.4,0.3,0.08,0.1],[2.58,2.81,0.3,0.2,0.1,0.1],[2.67,2.8,0.7,0.95,0.06,0.06],[1.46,2.75,0.5,0.6,0.15,0.15],[1.53,2.69,0.4,0.7,0.12,0.12],[1.65,2.73,0.6,0.6,0.1,0.1],[1.8,2.75,0.5,0.8,0.1,0.1],[1.66,2.67,0.5,0.6,0.1,0.1],[1.69,2.63,0.4,0.5,0.1,0.1],[1.94,2.68,0.5,0.7,0.1,0.1],[2.12,2.73,0.4,0.5,0.1,0.1],[2.1,2.67,0.5,0.5,0.1,0.1],[1.76,2.62,0.4,0.6,0.1,0.1],[1.86,2.57,0.6,0.6,0.12,0.12],[2.08,2.62,0.5,0.4,0.1,0.1],[2.06,2.54,0.4,0.5,0.1,0.1],[2.21,2.58,0.4,0.5,0.1,0.1],[2.57,2.59,0.3,0.3,0.1,0.1],[2.19,2.51,0.5,0.4,0.1,0.1],[1.75,2.52,0.5,0.6,0.1,0.1],[0.98,2.6,0.2,0.2,0.06,0.06],[1.22,2.53,0.3,0.5,0.1,0.1],[1.5,2.51,0.6,0.6,0.15,0.15],[1.48,2.46,0.6,0.6,0.1,0.1],[1.64,2.42,0.6,0.7,0.58,0.3],[1.66,2.42,0.5,0.8,0.12,0.12],[1.75,2.43,0.6,0.7,0.1,0.1],[1.33,2.34,0.5,0.6,0.1,0.1],[1.52,2.33,0.5,0.6,0.12,0.12],[1.7,2.35,0.6,0.8,0.1,0.1],[2.22,2.37,0.5,0.5,0.1,0.1],[2.29,2.32,0.5,0.6,0.1,0.1],[2.46,2.38,0.4,0.5,0.1,0.1],[2.56,2.39,0.3,0.4,0.1,0.1],[2.77,2.31,0.9,0.95,0.1,0.1],[1.51,2.22,0.2,0.3,0.38,0.1],[2.17,2.24,0.3,0.4,0.2,0.25],[1.23,2.2,0.2,0.2,0.1,0.1]];
// Inset: protein timing vs mRNA timing (hours)
const timingInset = [[0.04,3.29],[0.06,2.85],[0.07,2.76],[0.05,2.66],[0.08,2.54],[0.16,2.55],[0.29,2.55],[0.04,2.16],[0.07,2.13],[0.1,2.11],[0.14,2.07],[0.04,2.0],[0.08,1.92],[0.06,1.8],[0.03,1.68],[0.12,1.68],[0.04,1.52],[0.02,1.37],[0.08,1.45],[0.1,1.56],[0.14,1.6],[0.16,1.51],[0.12,1.29],[0.03,1.21],[0.06,1.06],[0.08,0.94],[0.04,0.86],[0.06,0.71],[0.08,0.59],[0.03,0.67],[0.1,0.79],[0.12,1.06],[0.18,1.21],[0.22,1.37],[0.21,1.68],[0.24,1.77],[0.2,1.93],[0.18,2.13],[0.26,2.0],[0.3,1.88],[0.25,1.56],[0.29,1.68],[0.35,1.76],[0.41,1.64],[0.37,1.48],[0.3,1.18],[0.35,2.45],[0.33,2.2],[0.36,2.13],[0.43,2.13],[0.43,1.88],[0.45,1.48],[0.48,1.51],[0.51,1.76],[0.55,1.64],[0.6,1.48],[0.6,1.32],[0.68,1.68],[0.74,1.16],[0.86,1.48],[0.86,1.2],[0.53,1.04],[0.59,0.6],[0.39,0.85],[0.37,0.69],[0.41,0.46],[0.2,0.69],[1.25,1.8],[1.52,2.38],[0.02,2.03],[0.06,1.76],[0.1,1.21],[0.04,0.98],[0.07,0.82],[0.09,1.51],[0.03,1.6],[0.14,1.84],[0.16,1.72],[0.12,1.41],[0.05,1.33],[0.01,1.14],[0.07,0.63],[0.13,0.9],[0.18,1.45],[0.23,1.56],[0.27,1.48],[0.2,1.29],[0.16,1.06],[0.14,1.21],[0.25,1.21],[0.09,2.3],[0.11,1.0],[0.05,1.9],[0.15,1.35],[0.02,0.75],[0.19,1.62],[0.09,0.7],[0.27,1.95],[0.12,2.2],[0.22,1.1],[0.32,1.55],[0.17,0.85]];
const insetStats = ["0.15","113"];

// ---------------- DRAWING ----------------
const FONT = '"Liberation Sans", Arial, Helvetica, sans-serif';
const svg = d3.select("svg").attr("font-family", FONT);
const defs = svg.append("defs");
const RED = "#d63b3b", BLUE = "#1a72b0", ORANGE = "#f7941e";

function rich(parent, parts, fs, subShift = 0.32){
  const t = parent.append("text").attr("font-size", fs).attr("font-family", FONT).attr("fill","#000");
  let cur = 0;
  for (const [s, lv] of parts){
    const size = lv === 0 ? 1 : 0.7, target = lv === 0 ? 0 : (lv < 0 ? subShift : -0.45);
    const ts = t.append("tspan").attr("font-size", (size*100) + "%").text(s);
    const d = (target - cur) / size;
    if (Math.abs(d) > 1e-6) ts.attr("dy", d.toFixed(3) + "em");
    cur = target;
  }
  return t;
}
function fit(t, w){ const L = t.node().getComputedTextLength(); t.attr("font-size", (+t.attr("font-size")) * w / L); }
function styleAxis(g, fs, lw){
  g.attr("font-size", fs).attr("font-family", FONT);
  g.select(".domain").attr("stroke", "#000").attr("stroke-width", lw);
  g.selectAll(".tick line").attr("stroke", "#000").attr("stroke-width", 1.3);
  g.selectAll(".tick text").attr("fill", "#111");
}
function panelLabel(t, x, y){ svg.append("text").attr("x", x).attr("y", y).attr("font-size", 28).text(t); }
const fmt = d3.format("");

// ===== Panel A =====
{
  const x = d3.scaleLinear([-0.5, 3.5], [98, 408]);
  const y = d3.scaleLinear([-0.5, 3.5], [333, 23]);
  const ticks = [-0.5,0,0.5,1,1.5,2,2.5,3,3.5];
  const g = svg.append("g");
  g.append("path").datum(repeatCore)
    .attr("d", d3.line().x(d => x(d[0])).y(d => y(d[1])).curve(d3.curveLinearClosed))
    .attr("fill", "#2b55a8");
  g.selectAll("rect.pa").data(repeatPoints).join("rect")
    .attr("x", d => x(d[0]) - 1.25).attr("y", d => y(d[1]) - 1.25)
    .attr("width", 2.5).attr("height", 2.5).attr("fill", "#2b55a8");
  g.append("line").attr("x1", x(-0.5)).attr("y1", y(-0.5)).attr("x2", x(3.5)).attr("y2", y(3.5))
    .attr("stroke", "#000").attr("stroke-width", 2);
  const ax = g.append("g").attr("transform", "translate(0,333)")
    .call(d3.axisBottom(x).tickValues(ticks).tickFormat(fmt).tickSize(-4).tickSizeOuter(0).tickPadding(7));
  styleAxis(ax, 12, 2);
  const ay = g.append("g").attr("transform", "translate(98,0)")
    .call(d3.axisLeft(y).tickValues(ticks).tickFormat(fmt).tickSize(-4).tickSizeOuter(0).tickPadding(6));
  styleAxis(ay, 12, 2);
  const tx = rich(g, [["repeat 1 - abundance log",0],["10",-1],["(a.u.)",0]], 20)
    .attr("x", 255).attr("y", 372).attr("text-anchor", "middle");
  fit(tx, 315);
  const ty = rich(g, [["repeat 2 - abundance log",0],["10",-1],["(a.u.)",0]], 20)
    .attr("text-anchor", "middle").attr("transform", "translate(58,178) rotate(-90)");
  fit(ty, 319);
  rich(g, [["R",0],["2",1],["log",-1],[" = " + statsA[0],0]], 14.5).attr("x", 115).attr("y", 36);
  rich(g, [["R",0],["2",1],["lin",-1],[" = " + statsA[1],0]], 14.5).attr("x", 115).attr("y", 60.5);
  rich(g, [["R",0],["s",-1],[" = " + statsA[2],0]], 14.5).attr("x", 115).attr("y", 84);
  rich(g, [["n = " + statsA[3],0]], 14.5).attr("x", 115).attr("y", 109);
  panelLabel("A", 11, 36);
}

// ===== Panel B =====
{
  const x = d3.scaleLinear([-5.62, 7], [497, 867]);
  const y = d3.scaleLinear([-3, 8], [335, 22]);
  const g = svg.append("g");
  defs.append("clipPath").attr("id", "clipB").append("rect").attr("x", 497).attr("y", 22).attr("width", 380).attr("height", 313);
  const pl = g.append("g").attr("clip-path", "url(#clipB)");
  const band = (hi, lo, col) => pl.append("path").datum(timeB.map((t, i) => [t, lo[i], hi[i]]))
    .attr("d", d3.area().x(d => x(d[0])).y0(d => y(d[1])).y1(d => y(d[2])).curve(d3.curveMonotoneX))
    .attr("fill", col);
  band(bandOuterHi, bandOuterLo, "#dedede");
  band(bandInnerHi, bandInnerLo, "#cdcdcd");
  const line = d3.line().x((d, i) => x(timeB[i])).y(d => y(d)).curve(d3.curveMonotoneX);
  pl.selectAll("path.ol").data(otherLines).join("path").attr("class", "ol")
    .attr("d", line).attr("fill", "none").attr("stroke", "#c4c4c4").attr("stroke-width", 1.2);
  pl.append("path").datum(spikeLine).attr("d", line).attr("fill", "none").attr("stroke", "#9a9a9a").attr("stroke-width", 1.2);
  pl.append("path").datum(timeFan.map((t, i) => [t, fanLo[i], fanHi[i]]))
    .attr("d", d3.area().x(d => x(d[0])).y0(d => y(d[1])).y1(d => y(d[2])).curve(d3.curveMonotoneX))
    .attr("fill", "#666").attr("opacity", 0.6);
  pl.selectAll("path.ul").data(upLines).join("path").attr("class", "ul")
    .attr("d", line).attr("fill", "none").attr("stroke", "#444").attr("stroke-width", 1.2);
  pl.selectAll("path.hl").data(lightHighLines).join("path").attr("class", "hl")
    .attr("d", line).attr("fill", "none").attr("stroke", "#bdbdbd").attr("stroke-width", 1.3);
  pl.append("line").attr("x1", 497).attr("x2", 870).attr("y1", y(thresholdB)).attr("y2", y(thresholdB)).attr("stroke", RED).attr("stroke-width", 3.2);
  pl.append("line").attr("x1", 497).attr("x2", 870).attr("y1", y(-thresholdB)).attr("y2", y(-thresholdB)).attr("stroke", BLUE).attr("stroke-width", 3.2);
  pl.append("path").datum(medianB).attr("d", line).attr("fill", "none").attr("stroke", ORANGE).attr("stroke-width", 3.5);
  g.append("line").attr("x1", x(0)).attr("x2", x(0)).attr("y1", 20).attr("y2", 335)
    .attr("stroke", "#000").attr("stroke-width", 2).attr("stroke-dasharray", "5,3");
  const ax = g.append("g").attr("transform", "translate(0,335)")
    .call(d3.axisBottom(x).tickValues([-4,-2,0,2,4,6]).tickFormat(fmt).tickSize(-5).tickSizeOuter(0).tickPadding(10));
  styleAxis(ax, 16, 2);
  const ay = g.append("g").attr("transform", "translate(497,0)")
    .call(d3.axisLeft(y).tickValues([-2,0,2,4,6,8]).tickFormat(fmt).tickSize(-5).tickSizeOuter(0).tickPadding(5));
  styleAxis(ay, 16, 2);
  g.append("text").attr("x", 502).attr("y", 38).attr("font-size", 21).attr("font-weight", "bold").text("- MMS");
  g.append("text").attr("x", 669).attr("y", 38).attr("font-size", 21).attr("font-weight", "bold").text("+ MMS");
  // colorbar
  const cb = d3.scaleLinear([-6, 0], [519, 643]);
  const grad = defs.append("linearGradient").attr("id", "gradB");
  grad.append("stop").attr("offset", "0%").attr("stop-color", "#0d0d0d");
  grad.append("stop").attr("offset", "100%").attr("stop-color", "#d6d6d6");
  g.append("rect").attr("x", cb(-6)).attr("y", 113).attr("width", cb(0) - cb(-6)).attr("height", 12)
    .attr("fill", "url(#gradB)").attr("stroke", "#000").attr("stroke-width", 1.2);
  pvalTicks.slice(1, 3).forEach(v => {
    g.append("line").attr("x1", cb(v)).attr("x2", cb(v)).attr("y1", 113).attr("y2", 116).attr("stroke", "#333");
    g.append("line").attr("x1", cb(v)).attr("x2", cb(v)).attr("y1", 122).attr("y2", 125).attr("stroke", "#333");
  });
  pvalTicks.forEach((v, i) => g.append("text").attr("x", cb(v) + (i === 0 ? 5 : 0)).attr("y", 140)
    .attr("font-size", 14).attr("text-anchor", "middle").text(pvalLabels[i]));
  const ct = rich(g, [["log",0],["10",-1],["(p-value)",0]], 16).attr("x", 582).attr("y", 102).attr("text-anchor", "middle");
  fit(ct, 110);
  const tx = g.append("text").attr("x", 630).attr("y", 378).attr("font-size", 20).attr("text-anchor", "middle").text("time (hours)");
  fit(tx, 116);
  const ty = rich(g, [["abundance fold-change log",0],["2",-1],["(a.u.)",0]], 20)
    .attr("text-anchor", "middle").attr("transform", "translate(469,180) rotate(-90)");
  fit(ty, 325);
  panelLabel("B", 426, 36);
}

// ===== Panel C =====
{
  const x = d3.scaleLinear([1.7, 6.35], [95, 450]);
  const y = d3.scaleLinear([-3, 8], [710, 409]);
  const g = svg.append("g");
  defs.append("clipPath").attr("id", "clipC").append("rect").attr("x", 95).attr("y", 405).attr("width", 360).attr("height", 305);
  const pl = g.append("g").attr("clip-path", "url(#clipC)");
  const cg = defs.append("linearGradient").attr("id", "gradC").attr("gradientUnits", "userSpaceOnUse")
    .attr("x1", x(2.6)).attr("y1", y(-0.2)).attr("x2", x(4.0)).attr("y2", y(1.3));
  cg.append("stop").attr("offset", "0%").attr("stop-color", "#d8d8d8");
  cg.append("stop").attr("offset", "60%").attr("stop-color", "#c4c4c4");
  cg.append("stop").attr("offset", "100%").attr("stop-color", "#a2a2a2");
  pl.append("path").datum(cloudC)
    .attr("d", d3.line().x(d => x(d[0])).y(d => y(d[1])).curve(d3.curveLinearClosed))
    .attr("fill", "url(#gradC)");
  const pc = d3.scaleLinear([-6, 0], ["#333333", "#d6d6d6"]);
  pl.selectAll("rect.pc").data([...pointsC].sort((a, b) => b[2] - a[2])).join("rect")
    .attr("x", d => x(d[0]) - 2).attr("y", d => y(d[1]) - 2).attr("width", 4).attr("height", 4)
    .attr("fill", d => pc(d[2]));
  const ln = d3.line().x(d => x(d[0])).y(d => y(d[1])).curve(d3.curveMonotoneX);
  pl.append("line").attr("x1", x(1.7)).attr("x2", x(splitC)).attr("y1", y(thresholdC)).attr("y2", y(thresholdC)).attr("stroke", RED).attr("stroke-width", 1.5);
  pl.append("line").attr("x1", x(splitC)).attr("x2", x(6.35)).attr("y1", y(thresholdC)).attr("y2", y(thresholdC)).attr("stroke", RED).attr("stroke-width", 4);
  pl.append("line").attr("x1", x(1.7)).attr("x2", x(splitC)).attr("y1", y(-thresholdC)).attr("y2", y(-thresholdC)).attr("stroke", BLUE).attr("stroke-width", 1.5);
  pl.append("line").attr("x1", x(splitC)).attr("x2", x(6.35)).attr("y1", y(-thresholdC)).attr("y2", y(-thresholdC)).attr("stroke", BLUE).attr("stroke-width", 4);
  pl.append("path").datum(upThickC).attr("d", ln).attr("fill", "none").attr("stroke", RED).attr("stroke-width", 5).attr("stroke-dasharray", "8,5");
  pl.append("path").datum(upThinC).attr("d", ln).attr("fill", "none").attr("stroke", RED).attr("stroke-width", 1.6).attr("stroke-dasharray", "7,5");
  pl.append("path").datum(downThickC).attr("d", ln).attr("fill", "none").attr("stroke", BLUE).attr("stroke-width", 5).attr("stroke-dasharray", "8,5");
  pl.append("path").datum(downThinC).attr("d", ln).attr("fill", "none").attr("stroke", BLUE).attr("stroke-width", 1.6).attr("stroke-dasharray", "7,5");
  const ax = g.append("g").attr("transform", "translate(0,710)")
    .call(d3.axisBottom(x).tickValues([2,3,4,5,6]).tickFormat(fmt).tickSize(-4).tickSizeOuter(0).tickPadding(8));
  styleAxis(ax, 16, 2);
  const ay = g.append("g").attr("transform", "translate(95,0)")
    .call(d3.axisLeft(y).tickValues([-2,0,2,4,6,8]).tickFormat(fmt).tickSize(-4).tickSizeOuter(0).tickPadding(5));
  styleAxis(ay, 16, 2);
  const u = g.append("text").attr("x", 311).attr("y", 473).attr("font-size", 21).attr("font-weight", "bold").attr("fill", RED).text(countUp);
  fit(u, 72);
  const dn = g.append("text").attr("x", 310).attr("y", 698).attr("font-size", 21).attr("font-weight", "bold").attr("fill", BLUE).text(countDown);
  fit(dn, 78);
  const tx = rich(g, [["abundance pre\u2212MMS log",0],["10",-1],["(protein \u2022 cell",0],["-1",1],[")",0]], 20, 0.22)
    .attr("x", 63).attr("y", 753.5);
  fit(tx, 420);
  const ty = rich(g, [["abundance fold-change log",0],["2",-1],["(a.u.)",0]], 20)
    .attr("text-anchor", "middle").attr("transform", "translate(57,554) rotate(-90)");
  fit(ty, 328);
  panelLabel("C", 11, 401);
}

// ===== Panel D =====
{
  const x = d3.scaleLinear([0, 4], [523, 853]);
  const y = d3.scaleLinear([1.5, 5.5], [712, 384]);
  const g = svg.append("g");
  const eb = g.append("g").attr("stroke", "#d3d3d3").attr("stroke-width", 2.4);
  eb.selectAll("line.h").data(inductionD).join("line").attr("class", "h")
    .attr("x1", d => x(Math.max(0, d[0] - d[2]))).attr("x2", d => x(d[0] + d[3]))
    .attr("y1", d => y(d[1])).attr("y2", d => y(d[1]));
  eb.selectAll("line.v").data(inductionD).join("line").attr("class", "v")
    .attr("x1", d => x(d[0])).attr("x2", d => x(d[0]))
    .attr("y1", d => y(d[1] - d[4])).attr("y2", d => y(d[1] + d[5]));
  g.selectAll("circle.d").data(inductionD).join("circle")
    .attr("cx", d => x(d[0])).attr("cy", d => y(d[1])).attr("r", 3.7).attr("fill", "#4d4d4d");
  const ax = g.append("g").attr("transform", "translate(0,712)")
    .call(d3.axisBottom(x).tickValues([0,1,2,3,4]).tickFormat(fmt).tickSize(-5).tickSizeOuter(0).tickPadding(9));
  styleAxis(ax, 18, 2.5);
  const ay = g.append("g").attr("transform", "translate(523,0)")
    .call(d3.axisLeft(y).tickValues([2,3,4,5]).tickFormat(fmt).tickSize(-5).tickSizeOuter(0).tickPadding(7));
  styleAxis(ay, 19, 2.5);
  const tx = g.append("text").attr("x", 693).attr("y", 756).attr("font-size", 19).attr("text-anchor", "middle").text("induction time (hours)");
  fit(tx, 183);
  const ty = rich(g, [["rate log",0],["10",-1],["(proteins\u2022cell-1\u2022hr-1)",0]], 20)
    .attr("text-anchor", "middle").attr("transform", "translate(501,545) rotate(-90)");
  fit(ty, 336);
  panelLabel("D", 447, 404);

  // inset
  const xi = d3.scaleLinear([0, 1.55], [727, 853]);
  const yi = d3.scaleLinear([0, 3.5], [532, 382]);
  const gi = svg.append("g");
  gi.selectAll("circle").data(timingInset).join("circle")
    .attr("cx", d => xi(d[0])).attr("cy", d => yi(d[1])).attr("r", 2.4).attr("fill", "#4d4d4d");
  const axi = gi.append("g").attr("transform", "translate(0,532)")
    .call(d3.axisBottom(xi).tickValues([0,0.5,1,1.5]).tickFormat(fmt).tickSize(-2).tickSizeOuter(0).tickPadding(2));
  styleAxis(axi, 5.5, 2.2);
  const ayi = gi.append("g").attr("transform", "translate(727,0)")
    .call(d3.axisLeft(yi).tickValues([0,0.5,1,1.5,2,2.5,3,3.5]).tickFormat(fmt).tickSize(-2).tickSizeOuter(0).tickPadding(3));
  styleAxis(ayi, 5.5, 2.2);
  gi.selectAll(".tick text").attr("fill", "#444");
  const ix = gi.append("text").attr("x", 798).attr("y", 553).attr("font-size", 10).attr("text-anchor", "middle").attr("fill", "#222").text("mRNA timing (hours)");
  fit(ix, 95);
  const iy = gi.append("text").attr("font-size", 9.5).attr("text-anchor", "middle").attr("fill", "#222")
    .attr("transform", "translate(713,462) rotate(-90)").text("protein timing (hours)");
  fit(iy, 110);
  gi.append("text").attr("x", 810).attr("y", 506).attr("font-size", 11).attr("fill", "#222").text("Rs = " + insetStats[0]);
  gi.append("text").attr("x", 810).attr("y", 521).attr("font-size", 11).attr("fill", "#222").text("n = " + insetStats[1]);
}
</script>
</body></html>
